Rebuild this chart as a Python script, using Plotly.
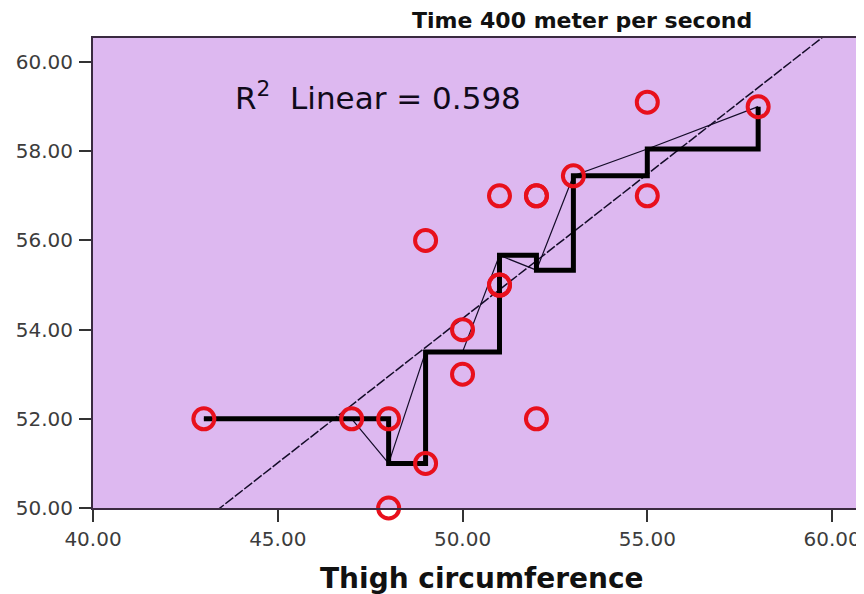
import numpy as np
import pandas as pd
import plotly.graph_objects as go

# Data
thigh = [43, 47, 48, 48, 49, 49, 50, 50, 51, 51, 51, 52, 52, 52, 53, 55, 55, 58]
time400 = [52, 52, 52, 50, 51, 56, 54, 53, 55, 55, 57, 57, 57, 52, 57.45, 59.1, 57, 59]
r2_label = "R<sup>2</sup>&nbsp; Linear = 0.598"
chart_title = "Time 400 meter per second"
x_title = "Thigh circumference"
x_ticks = [40, 45, 50, 55, 60]
y_ticks = [50, 52, 54, 56, 58, 60]

df = pd.DataFrame({"x": thigh, "y": time400})
means = df.groupby("x")["y"].mean().reset_index()

slope, intercept = np.polyfit(df["x"], df["y"], 1)
fit_x = np.array([40.0, 61.0])
fit_y = intercept + slope * fit_x

X0, X1 = 40, 60.81
Y0, Y1 = 50, 60.54

RED = "#E8101C"
FONT = "DejaVu Sans"

fig = go.Figure()

# regression line (thin dashed)
fig.add_trace(go.Scatter(x=fit_x, y=fit_y, mode="lines",
                         line=dict(color="#140c28", width=1.5, dash="10px,2px"),
                         hoverinfo="skip", showlegend=False))
# thin line through group means
fig.add_trace(go.Scatter(x=means["x"], y=means["y"], mode="lines",
                         line=dict(color="#140c28", width=1.2),
                         hoverinfo="skip", showlegend=False))
# thick step line through group means
fig.add_trace(go.Scatter(x=means["x"], y=means["y"], mode="lines",
                         line=dict(color="black", width=5, shape="hv"),
                         hoverinfo="skip", showlegend=False))
# points
fig.add_trace(go.Scatter(x=thigh, y=time400, mode="markers",
                         marker=dict(symbol="circle-open", size=21, color=RED,
                                     line=dict(color=RED, width=4)),
                         cliponaxis=False, showlegend=False))

W, H = 856, 586
ML, MT, MB = 85, 30, 86
plot_w = W - ML
plot_h = H - MT - MB

fig.add_annotation(x=43.78, y=59.24, xref="x", yref="y", xanchor="left", yanchor="middle",
                   text=r2_label, showarrow=False,
                   font=dict(family=FONT, size=31, color="#100a1a"))

fig.add_annotation(x=(583 - 93) / plot_w, y=1 + 18 / plot_h, xref="paper", yref="paper",
                   xanchor="center", yanchor="middle",
                   text="<b>" + chart_title + "</b>", showarrow=False,
                   font=dict(family=FONT, size=22, color="#111111"))

fig.add_annotation(x=(483 - 93) / plot_w, y=-70 / plot_h, xref="paper", yref="paper",
                   xanchor="center", yanchor="middle",
                   text="<b>" + x_title + "</b>", showarrow=False,
                   font=dict(family=FONT, size=28, color="#111111"))

fig.update_layout(
    width=W, height=H,
    margin=dict(l=ML, r=0, t=MT, b=MB),
    paper_bgcolor="white",
    plot_bgcolor="#DDB8F0",
    showlegend=False,
    font=dict(family=FONT, size=20, color="#3a3a3a"),
)

axis_style = dict(showgrid=False, zeroline=False, showline=True, linecolor="#3a2a40",
                  linewidth=2, ticks="outside", ticklen=12, tickwidth=2,
                  tickcolor="#333333", tickfont=dict(family=FONT, size=20, color="#3c3c3c"),
                  mirror=True, tickformat=".2f")
fig.update_xaxes(range=[X0, X1], tickvals=x_ticks, **axis_style)
fig.update_yaxes(range=[Y0, Y1], tickvals=y_ticks, ticklabelstandoff=2, **axis_style)

fig.write_html("out.html")
